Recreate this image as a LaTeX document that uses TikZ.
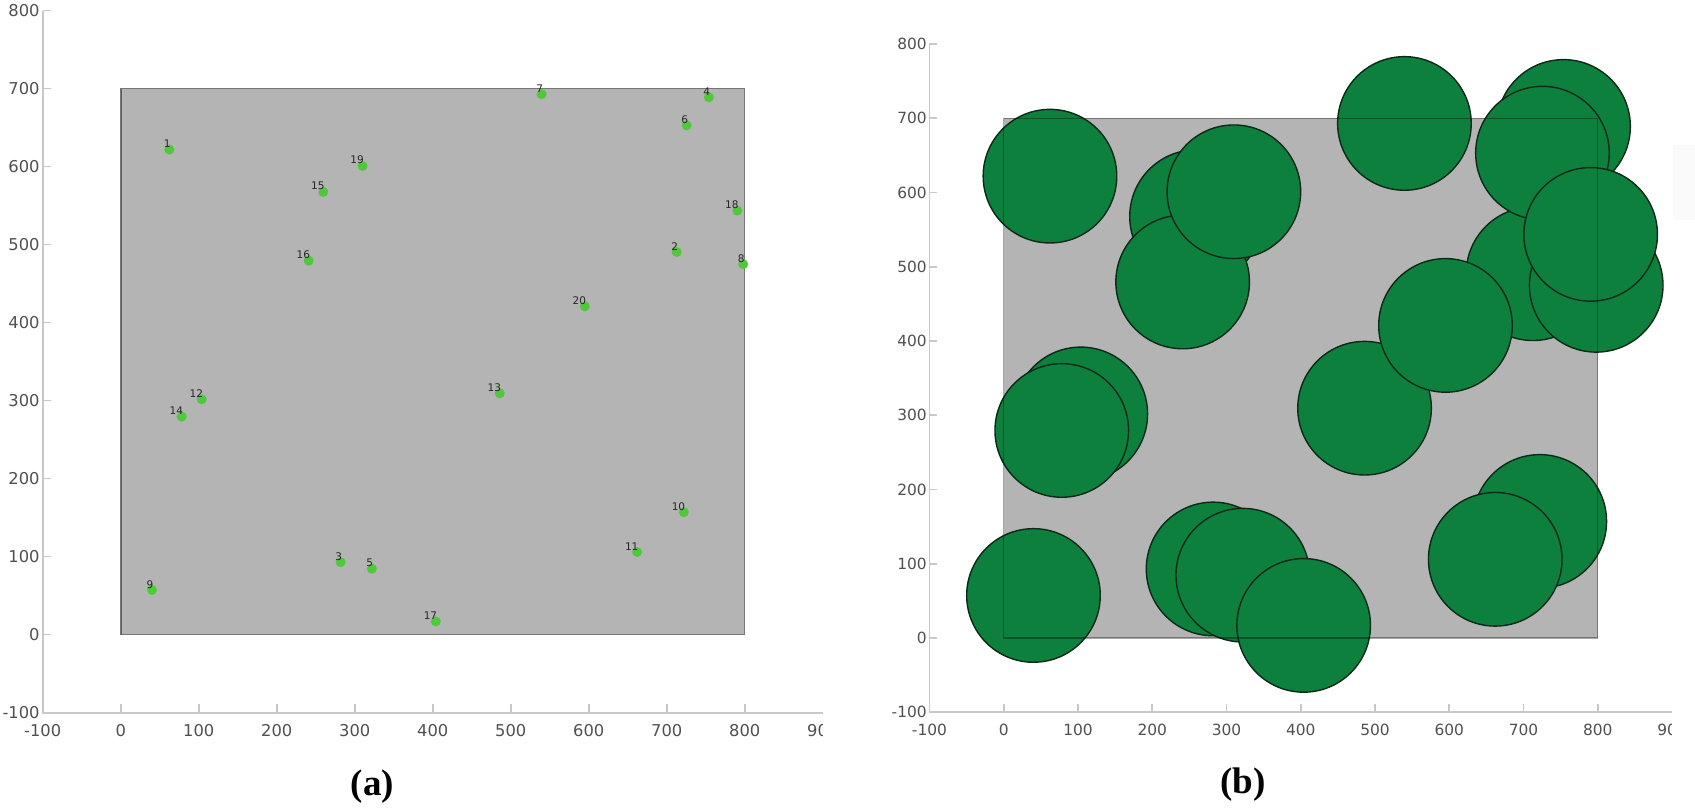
\documentclass[tikz,border=0pt]{standalone}
\usepackage{fontspec}
\setmainfont{Liberation Serif}
\newfontfamily\axisfont{DejaVu Sans}
\definecolor{axisgray}{RGB}{200,200,200}
\definecolor{ticklab}{RGB}{80,80,80}
\definecolor{boxfill}{RGB}{180,180,180}
\definecolor{boxedge}{RGB}{118,118,118}
\definecolor{dotgreen}{RGB}{80,200,60}
\definecolor{discgreen}{RGB}{14,128,62}
\definecolor{discedge}{RGB}{12,40,22}
\tikzset{
  axisline/.style={draw=axisgray, line width=1.6pt},
  ticklabA/.style={text=ticklab, inner sep=0pt, font=\axisfont\fontsize{16.3}{18}\selectfont},
  ticklabB/.style={text=ticklab, inner sep=0pt, font=\axisfont\fontsize{15.4}{17}\selectfont},
  dotnode/.style={circle, fill=dotgreen, inner sep=0pt, minimum size=10pt},
  dotlab/.style={anchor=base east, inner sep=0pt, text=black!85, font=\axisfont\fontsize{10.5}{12}\selectfont},
  disc/.style={circle, fill=discgreen, draw=discedge, line width=1.4pt, inner sep=0pt, minimum size=133.6pt},
  caption/.style={inner sep=0pt, font=\bfseries\fontsize{37}{40}\selectfont}
}
\begin{document}
\begin{tikzpicture}[x=1pt,y=1pt]
\useasboundingbox (0,0) rectangle (1695,809);
\fill[white] (0,0) rectangle (1695,809);

% ---------------- panel (a)
\begin{scope}[shift={(120.7,174.3)}, x=0.78pt, y=0.78pt]
  \fill[boxfill] (0,0) rectangle (800,700);
  \draw[boxedge, line width=1.3pt] (0,0) rectangle (800,700);
  \draw[boxedge!80!black, line width=1.2pt] (1,0) -- (1,700);
  \draw[axisline] (-100,800) -- (-100,-100) -- (900,-100);
  \foreach \v in {-100,0,100,...,800} {
    \draw[axisline] (-100,\v) -- ++(8pt,0);
    \node[ticklabA, anchor=east] (ya\v) at ([xshift=-3pt]-100,\v) {\v};
  }
  \foreach \v in {0,100,...,800} \draw[axisline] (\v,-100) -- ++(0,9pt);
  \foreach \v in {-100,0,100,...,800}
    \node[ticklabA] (xa\v) at ([yshift=-17.5pt]\v,-100) {\v};
  \begin{scope}
    \clip (840,-150) rectangle (900,-100);
    \node[ticklabA] (xa900) at ([yshift=-17.5pt]900,-100) {900};
  \end{scope}
  \foreach \n/\px/\py in {1/62.3/622, 2/712.8/490.6, 3/282/93, 4/754/689, 5/322/84.6,
      6/725.6/653, 7/539.7/693, 8/798/475, 9/40.1/57.3, 10/722/157, 11/662/106,
      12/103.8/301.8, 13/486/309.5, 14/78.2/279.5, 15/259.7/567.6, 16/241/479.5,
      17/404/17, 18/790.5/543.6, 19/310/601, 20/595/421} {
    \node[dotnode] (d\n) at (\px,\py) {};
    \node[dotlab] (l\n) at ([xshift=1.5pt,yshift=2pt]d\n.center) {\n};
  }
\end{scope}

% ---------------- panel (b)
\begin{scope}[shift={(1003.7,171)}, x=0.7425pt, y=0.7425pt]
  \fill[boxfill] (0,0) rectangle (800,700);
  \draw[axisline] (-100,800) -- (-100,-100) -- (900,-100);
  \foreach \v in {-100,0,100,...,800} {
    \draw[axisline] (-100,\v) -- ++(7.5pt,0);
    \node[ticklabB, anchor=east] (yb\v) at ([xshift=-2.6pt]-100,\v) {\v};
  }
  \foreach \v in {0,100,...,800} \draw[axisline] (\v,-100) -- ++(0,8.5pt);
  \foreach \v in {-100,0,100,...,800}
    \node[ticklabB] (xb\v) at ([yshift=-18pt]\v,-100) {\v};
  \begin{scope}
    \clip (840,-150) rectangle (900,-100);
    \node[ticklabB] (xb900) at ([yshift=-18pt]900,-100) {900};
  \end{scope}
  \foreach \n/\px/\py in {1/62.3/622, 2/712.8/490.6, 3/282/93, 4/754/689, 5/322/84.6,
      6/725.6/653, 7/539.7/693, 8/798/475, 9/40.1/57.3, 10/722/157, 11/662/106,
      12/103.8/301.8, 13/486/309.5, 14/78.2/279.5, 15/259.7/567.6, 16/241/479.5,
      17/404/17, 18/790.5/543.6, 19/310/601, 20/595/421} {
    \node[disc] (c\n) at (\px,\py) {};
  }
  \draw[black, opacity=0.35, line width=1.3pt] (0,0) rectangle (800,700);
\end{scope}

\fill[black!2] (1673,589) rectangle (1695,664);

\node[caption] (capa) at (372.5,22.5) {(a)};
\node[caption] (capb) at (1243,24) {(b)};
\end{tikzpicture}
\end{document}
